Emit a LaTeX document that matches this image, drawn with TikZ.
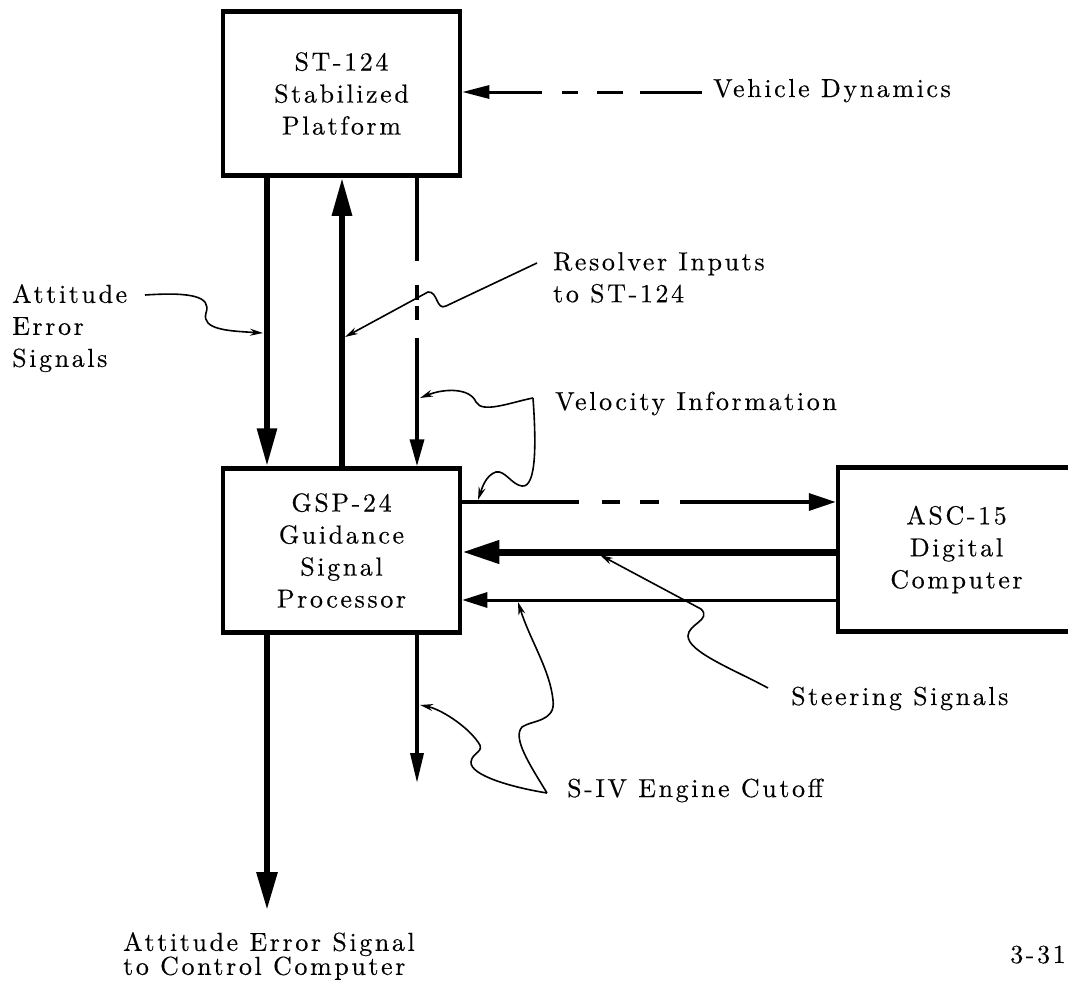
\documentclass[tikz,border=0pt]{standalone}
\usepackage{fontspec}
\setmainfont{lmroman10-regular.otf}[LetterSpace=10, FakeBold=0.3]
\usetikzlibrary{arrows.meta,calc}
\begin{document}
\begin{tikzpicture}[x=1pt,y=-1pt,
  txt/.style={font=\fontsize{26}{32}\selectfont, inner sep=0pt},
  blk/.style={txt, draw, line width=4.5pt, minimum width=237pt, minimum height=164pt, align=center},
  heavy/.style={line width=6pt, -{Triangle[length=38pt,width=19pt]}},
  heavier/.style={line width=7pt, -{Triangle[length=37pt,width=22pt]}},
  thinline/.style={line width=3.5pt, -{Triangle[length=27pt,width=14pt]}},
  leader/.style={line width=1.6pt, -{Stealth[length=13pt,width=7pt]}}]
\useasboundingbox (0,0) rectangle (1068,982);

% boxes
\node[blk] (st) at (341.5,93.5) {ST-124\\Stabilized\\Platform};
\node[blk] (gsp) at (341.5,550.5) {GSP-24\\Guidance\\Signal\\Processor};
\node[blk] (asc) at (956.5,549.5) {ASC-15\\Digital\\Computer};

% labels
\node[txt, anchor=base west] (veh) at (713,97) {Vehicle Dynamics};
\node[txt, anchor=north west, align=left] (aes) at (12,284) {Attitude\\Error\\Signals};
\node[txt, anchor=north west, align=left] (res) at (553,252) {Resolver Inputs\\to ST-124};
\node[txt, anchor=base west] (vel) at (555,410) {Velocity Information};
\node[txt, anchor=base west] (ste) at (791,705) {Steering Signals};
\node[txt, anchor=base west] (siv) at (567,797) {S-IV Engine Cutoff};
\node[txt, anchor=north west, align=left] (aet) at (123,932) {Attitude Error Signal\\[-8pt]to Control Computer};
\node[txt, anchor=base west] (pg) at (1010,963) {3-31};

% vehicle dynamics input
\coordinate (vdl) at (702,92);
\draw[thinline, line width=3pt, -{Triangle[length=27pt,width=13pt]},
  dash pattern=on 62pt off 17pt on 26pt off 19pt on 16pt off 20pt on 300pt]
  (vdl) -- (vdl -| st.east);

% verticals between ST-124 and GSP-24
\draw[heavy] ([xshift=-74.5pt]st.south) -- ([xshift=-74.5pt]gsp.north);
\draw[heavy] ([xshift=0.5pt]gsp.north) -- ([xshift=0.5pt]st.south);
\draw[thinline, dash pattern=on 83pt off 24pt on 15pt off 6pt on 14pt off 18pt on 400pt]
  ([xshift=75.5pt]st.south) -- ([xshift=75.5pt]gsp.north);

% horizontals between GSP-24 and ASC-15
\coordinate (h1) at ([yshift=48.5pt]gsp.east);
\coordinate (h2) at ([yshift=-2.5pt]asc.west);
\coordinate (h3) at ([yshift=-50.5pt]asc.west);
\draw[thinline, -{Triangle[length=27pt,width=17pt]},
  dash pattern=on 117pt off 23pt on 18pt off 20pt on 19pt off 21pt on 400pt]
  (h1) -- (h1 -| asc.west);
\draw[heavier] (h2) -- (h2 -| gsp.east);
\draw[thinline, line width=3pt, -{Triangle[length=25pt,width=15pt]}] (h3) -- (h3 -| gsp.east);

% outputs below GSP-24
\coordinate (aout) at (267,910);
\coordinate (sout) at (417,783);
\draw[heavy, -{Triangle[length=38pt,width=20pt]}] ([xshift=-74.5pt]gsp.south) -- (aout);
\draw[thinline, -{Triangle[length=30pt,width=13pt]}] ([xshift=75.5pt]gsp.south) -- (sout);

% leaders
\coordinate (a1s) at (145,295);
\coordinate (a1e) at (263,333);
\draw[leader] (a1s) .. controls (190,292) and (212,296) .. (206,313)
  .. controls (201,330) and (230,331) .. (a1e);

\coordinate (r1s) at (537,263);
\coordinate (r1e) at (345,337);
\draw[leader] (r1s) -- (446,306) .. controls (436,311) and (438,291) .. (428,292) -- (r1e);

\coordinate (v1s) at (533,398);
\coordinate (v1e) at (420,398);
\coordinate (v2e) at (478,500);
\draw[leader] (v1s) .. controls (512,402) and (482,414) .. (476,402)
  .. controls (470,388) and (445,388) .. (v1e);
\draw[leader] (v1s) .. controls (536,440) and (537,488) .. (522,486)
  .. controls (512,485) and (505,470) .. (496,472)
  .. controls (486,475) and (482,488) .. (v2e);

\coordinate (s1s) at (768,688);
\coordinate (s1e) at (600,555);
\draw[leader] (s1s) .. controls (735,670) and (688,652) .. (688,636)
  .. controls (688,624) and (712,620) .. (701,609) -- (s1e);

\coordinate (sivl) at (547,793);
\coordinate (c1e) at (518,602);
\coordinate (c2e) at (420,705);
\draw[leader] (sivl) .. controls (530,765) and (512,738) .. (522,727)
  .. controls (532,720) and (556,722) .. (553,700)
  .. controls (550,670) and (530,640) .. (c1e);
\draw[leader] (sivl) .. controls (510,787) and (470,775) .. (471,762)
  .. controls (472,752) and (486,752) .. (478,742)
  .. controls (466,725) and (440,709) .. (c2e);
\end{tikzpicture}
\end{document}
